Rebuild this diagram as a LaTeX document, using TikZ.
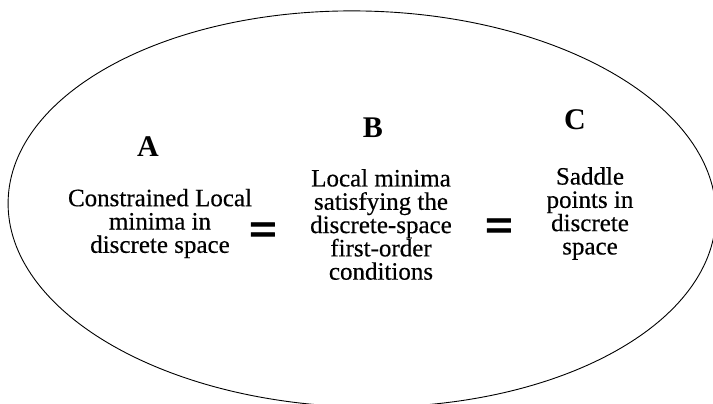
\documentclass[tikz,border=0pt]{standalone}
\usepackage{fontspec}
\setmainfont{Liberation Serif}
\newfontfamily\bodyfont[FakeBold=0.4]{Liberation Serif}
\newfontfamily\eqfont[FakeBold=1.5]{Liberation Serif}
\begin{document}
\begin{tikzpicture}[x=1pt,y=-1pt,
  body/.style={align=center,inner sep=0pt,font=\bodyfont\fontsize{25}{23.3}\selectfont},
  letter/.style={inner sep=0pt,anchor=base,font=\fontsize{30}{30}\selectfont\bfseries},
  eqsign/.style={inner sep=0pt,anchor=base,font=\eqfont\fontsize{50}{50}\selectfont\bfseries}]
\useasboundingbox (0,0) rectangle (713,404);
\draw[line width=0.9pt,rotate around={-1.3:(362,209)}] (362,209) ellipse [x radius=354, y radius=198];
\node[letter] (la) at (148,157) {A};
\node[letter] (lb) at (373,137) {B};
\node[letter] (lc) at (575,129) {C};
\node[body] (ta) at (160,223.5) {Constrained Local\\minima in\\discrete space};
\node[body] (tb) at (381,224.5) {Local minima\\satisfying the\\discrete-space\\first-order\\conditions};
\node[body] (tc) at (590,213.5) {Saddle\\points in\\discrete\\space};
\node[eqsign] (e1) at (263,246) {=};
\node[eqsign] (e2) at (499,242) {=};
\end{tikzpicture}
\end{document}
